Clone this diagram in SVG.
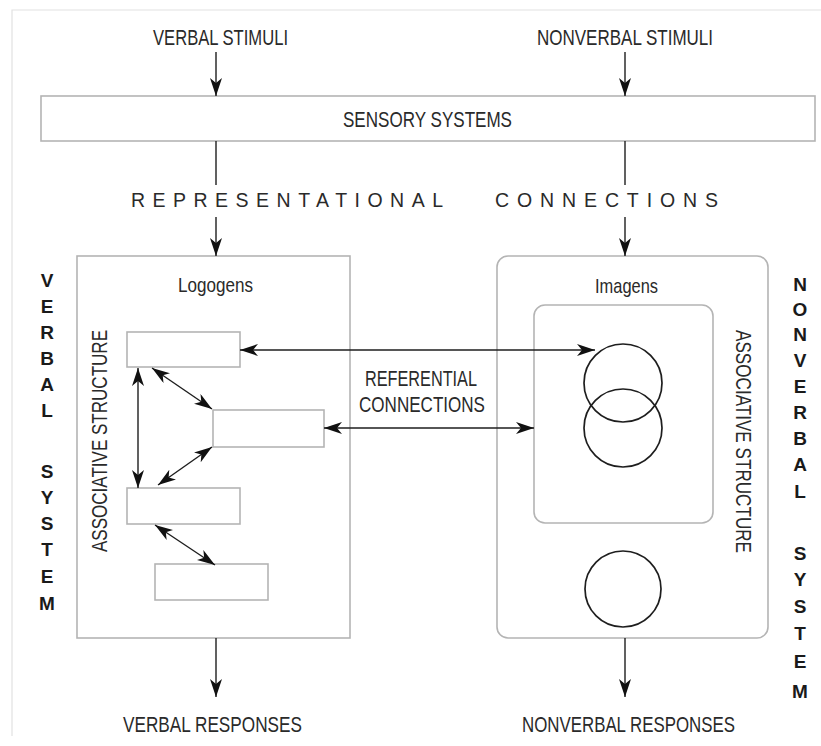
<svg xmlns="http://www.w3.org/2000/svg" width="821" height="746" viewBox="0 0 821 746">
<style>
.t{font-family:"Liberation Sans",Arial,sans-serif;fill:#2a2a2a;}
.lbl{font-size:22.5px;}
.sp{font-size:19.5px;}
.sys{font-family:"Liberation Sans",Arial,sans-serif;font-size:19px;font-weight:bold;fill:#1a1a1a;text-anchor:middle;}
.box{fill:#fff;stroke:#b4b4b4;stroke-width:1.6;}
.cir{fill:none;stroke:#1e1e1e;stroke-width:1.7;}
.ln{stroke:#1e1e1e;stroke-width:1.4;fill:none;}
.frame{stroke:#e2e2e2;stroke-width:1.2;fill:none;}
</style>
<defs>
<marker id="ah" viewBox="0 0 18 12" refX="18" refY="6" markerWidth="18" markerHeight="12" markerUnits="userSpaceOnUse" orient="auto-start-reverse">
<path d="M0,0 L18,6 L0,12 L5,6 z" fill="#111"/>
</marker>
</defs>
<rect width="821" height="746" fill="#fff"/>
<path class="frame" d="M12,736 L12,10 L821,10"/>

<g id="verbal-stimuli"><text class="t lbl" x="153" y="45" textLength="135" lengthAdjust="spacingAndGlyphs">VERBAL STIMULI</text></g>
<g id="nonverbal-stimuli"><text class="t lbl" x="537" y="45" textLength="176" lengthAdjust="spacingAndGlyphs">NONVERBAL STIMULI</text></g>

<g id="sensory-systems">
<rect class="box" x="41" y="96" width="774" height="45"/>
<text class="t lbl" x="343" y="127" textLength="169" lengthAdjust="spacingAndGlyphs">SENSORY SYSTEMS</text>
</g>

<g id="representational-connections">
<text class="t sp" x="131" y="207" textLength="312" lengthAdjust="spacing">REPRESENTATIONAL</text>
<text class="t sp" x="495" y="207" textLength="223" lengthAdjust="spacing">CONNECTIONS</text>
</g>

<g id="verbal-system-label">
<text class="sys" x="47" y="287">V</text>
<text class="sys" x="47" y="313">E</text>
<text class="sys" x="47" y="339">R</text>
<text class="sys" x="47" y="365">B</text>
<text class="sys" x="47" y="391">A</text>
<text class="sys" x="47" y="417">L</text>
<text class="sys" x="47" y="478">S</text>
<text class="sys" x="47" y="504">Y</text>
<text class="sys" x="47" y="530">S</text>
<text class="sys" x="47" y="556">T</text>
<text class="sys" x="47" y="583">E</text>
<text class="sys" x="47" y="610">M</text>
</g>

<g id="nonverbal-system-label">
<text class="sys" x="800" y="291">N</text>
<text class="sys" x="800" y="316">O</text>
<text class="sys" x="800" y="341">N</text>
<text class="sys" x="800" y="367">V</text>
<text class="sys" x="800" y="393">E</text>
<text class="sys" x="800" y="419">R</text>
<text class="sys" x="800" y="445">B</text>
<text class="sys" x="800" y="471">A</text>
<text class="sys" x="800" y="498">L</text>
<text class="sys" x="800" y="560">S</text>
<text class="sys" x="800" y="586">Y</text>
<text class="sys" x="800" y="613">S</text>
<text class="sys" x="800" y="640">T</text>
<text class="sys" x="800" y="668">E</text>
<text class="sys" x="800" y="698">M</text>
</g>

<g id="verbal-system">
<rect class="box" x="77" y="256" width="273" height="382"/>
<text class="t" font-size="21" x="178" y="292" textLength="75" lengthAdjust="spacingAndGlyphs">Logogens</text>
<text class="t lbl" transform="translate(107,552) rotate(-90)" x="0" y="0" textLength="222" lengthAdjust="spacingAndGlyphs">ASSOCIATIVE STRUCTURE</text>
</g>
<g id="logogen-1"><rect class="box" x="127" y="332" width="113" height="35"/></g>
<g id="logogen-2"><rect class="box" x="213" y="410" width="111" height="37"/></g>
<g id="logogen-3"><rect class="box" x="127" y="488" width="113" height="36"/></g>
<g id="logogen-4"><rect class="box" x="155" y="564" width="113" height="36"/></g>

<g id="nonverbal-system">
<rect class="box" x="497" y="256" width="271" height="382" rx="11"/>
<text class="t" font-size="21" x="595" y="293" textLength="63" lengthAdjust="spacingAndGlyphs">Imagens</text>
<text class="t lbl" transform="translate(736,330) rotate(90)" x="0" y="0" textLength="223" lengthAdjust="spacingAndGlyphs">ASSOCIATIVE STRUCTURE</text>
</g>
<g id="imagen-group">
<rect class="box" x="534" y="305" width="179" height="218" rx="11"/>
</g>
<g id="imagen-1"><circle class="cir" cx="623" cy="383" r="39"/></g>
<g id="imagen-2"><circle class="cir" cx="623" cy="428" r="39"/></g>
<g id="imagen-3"><circle class="cir" cx="623" cy="589" r="38"/></g>

<g id="referential-label">
<text class="t lbl" x="365" y="386" textLength="112" lengthAdjust="spacingAndGlyphs">REFERENTIAL</text>
<text class="t lbl" x="359" y="412" textLength="126" lengthAdjust="spacingAndGlyphs">CONNECTIONS</text>
</g>

<g id="verbal-responses"><text class="t lbl" x="123" y="732" textLength="179" lengthAdjust="spacingAndGlyphs">VERBAL RESPONSES</text></g>
<g id="nonverbal-responses"><text class="t lbl" x="522" y="732" textLength="213" lengthAdjust="spacingAndGlyphs">NONVERBAL RESPONSES</text></g>

<g id="connectors">
<line class="ln" x1="216" y1="52" x2="216" y2="96" marker-end="url(#ah)"/>
<line class="ln" x1="625" y1="52" x2="625" y2="96" marker-end="url(#ah)"/>
<line class="ln" x1="216" y1="141" x2="216" y2="185"/>
<line class="ln" x1="625" y1="141" x2="625" y2="185"/>
<line class="ln" x1="216" y1="217" x2="216" y2="256" marker-end="url(#ah)"/>
<line class="ln" x1="625" y1="217" x2="625" y2="256" marker-end="url(#ah)"/>
<line class="ln" x1="240" y1="350" x2="595" y2="350" marker-start="url(#ah)" marker-end="url(#ah)"/>
<line class="ln" x1="324" y1="428" x2="534" y2="428" marker-start="url(#ah)" marker-end="url(#ah)"/>
<line class="ln" x1="138" y1="368" x2="138" y2="488" marker-start="url(#ah)" marker-end="url(#ah)"/>
<line class="ln" x1="152" y1="368" x2="212" y2="409" marker-start="url(#ah)" marker-end="url(#ah)"/>
<line class="ln" x1="212" y1="447" x2="158" y2="485" marker-start="url(#ah)" marker-end="url(#ah)"/>
<line class="ln" x1="155" y1="525" x2="215" y2="565" marker-start="url(#ah)" marker-end="url(#ah)"/>
<line class="ln" x1="216" y1="638" x2="216" y2="697" marker-end="url(#ah)"/>
<line class="ln" x1="625" y1="638" x2="625" y2="697" marker-end="url(#ah)"/>
</g>
</svg>
